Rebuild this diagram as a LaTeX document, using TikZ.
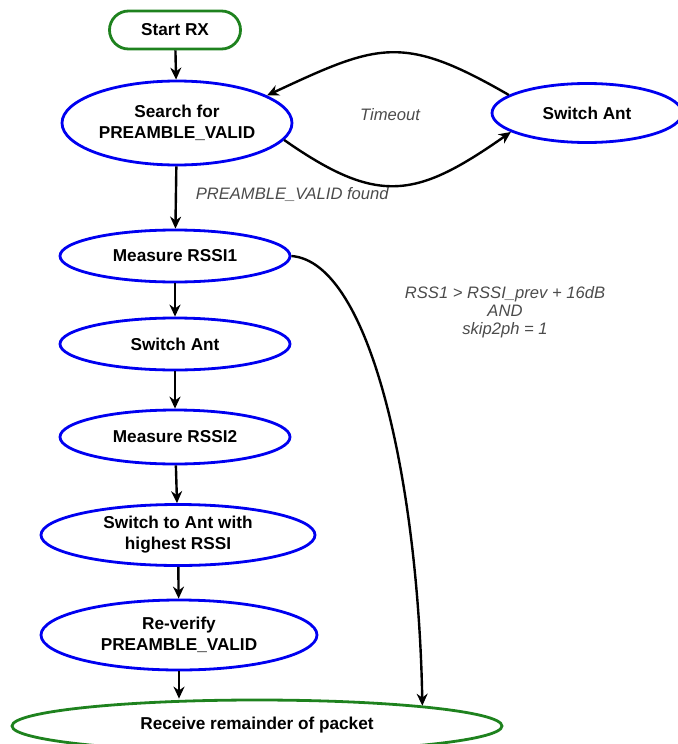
\documentclass[tikz,border=0pt]{standalone}
\usepackage{fontspec}
\setmainfont{Liberation Sans}
\usetikzlibrary{arrows.meta, shapes.geometric}
\definecolor{flowblue}{RGB}{0, 0, 240}
\definecolor{flowgreen}{RGB}{30, 130, 30}
\definecolor{notegray}{RGB}{75, 75, 75}

\begin{document}
\begin{tikzpicture}[
    x=0.5pt, y=-0.5pt,
    state/.style={draw=flowblue, ellipse, line width=1.4pt, inner sep=0pt,
                  minimum width=115pt, minimum height=26pt, align=center,
                  font=\fontsize{8.6}{10.5}\selectfont\bfseries},
    terminal/.style={state, draw=flowgreen},
    flow/.style={-{Stealth[length=6pt, width=5.5pt]}, line width=1.2pt},
    note/.style={font=\fontsize{8.3}{9}\selectfont\itshape, text=notegray, align=center},
  ]
    \useasboundingbox (0,0) rectangle (677,744);

    \node[terminal, rectangle, rounded corners=9.5pt, minimum width=65.5pt,
          minimum height=19pt] (start) at (175,30) {Start RX};
    \node[state, minimum height=42pt] (search) at (177,123)
      {Search for\\PREAMBLE\_VALID};
    \node[state, minimum width=95pt, minimum height=29.5pt] (swant) at (587,113)
      {Switch Ant};
    \node[state] (rssia) at (175,256) {Measure RSSI1};
    \node[state] (swb) at (175,344) {Switch Ant};
    \node[state, minimum height=27pt] (rssib) at (175,437) {Measure RSSI2};
    \node[state, minimum width=137pt, minimum height=30.5pt] (best) at (178,535)
      {Switch to Ant with\\highest RSSI};
    \node[state, minimum width=138pt, minimum height=35pt] (verify) at (179,635)
      {Re-verify\\PREAMBLE\_VALID};
    \node[terminal, minimum width=245pt, minimum height=26pt] (recv) at (257,726)
      {\raisebox{3pt}{Receive remainder of packet}};

    % main chain
    \draw[flow] (start) -- (search);
    \draw[flow] (search) -- (rssia)
      node[note, pos=0.45, right=6pt] {PREAMBLE\_VALID found};
    \draw[flow] (rssia) -- (swb);
    \draw[flow] (swb) -- (rssib);
    \draw[flow] (rssib) -- (best);
    \draw[flow] (best) -- (verify);
    \draw[flow] (verify.south) -- (verify.south |- recv.north);

    % antenna loop
    \draw[flow] (search.-9) to[out=-35, in=215, looseness=1.3] (swant.194);
    \draw[flow] (swant.167) to[out=150, in=25, looseness=1.3] (search.17);
    \node[note] (tmo) at (390,115) {Timeout};

    % fast path
    \draw[flow] (rssia.east) .. controls (370,262) and (418,480) .. (recv.7);
    \node[note] (cond) at (505,312) {RSS1 > RSSI\_prev + 16dB\\AND\\skip2ph = 1};
\end{tikzpicture}
\end{document}
